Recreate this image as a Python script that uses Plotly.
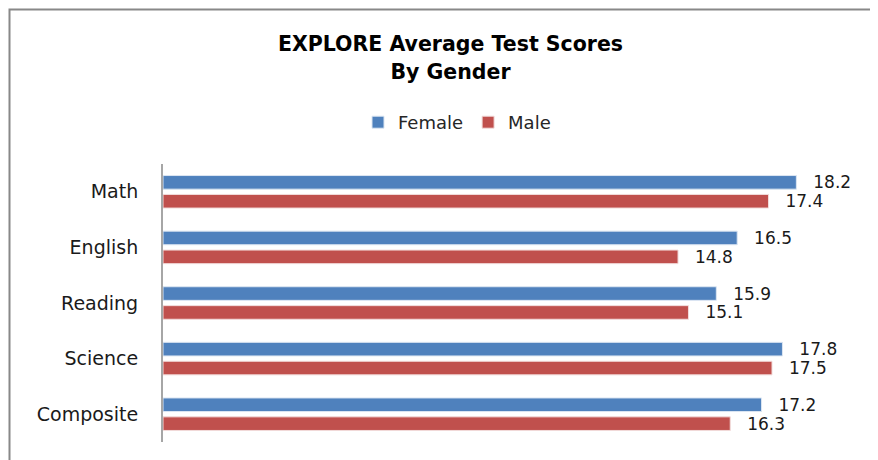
import plotly.graph_objects as go

categories = ["Math", "English", "Reading", "Science", "Composite"]
female = [18.2, 16.5, 15.9, 17.8, 17.2]
male = [17.4, 14.8, 15.1, 17.5, 16.3]

BLUE = "#4F81BD"
RED = "#C0504D"
PAD = "\u2002\u00a0"

W, H = 870, 452
L, T, R, B = 155, 156, 19, 18
PW, PH = W - L - R, H - T - B

label_font = dict(family="DejaVu Sans", size=17, color="#1a1a1a")

fig = go.Figure()
fig.add_trace(go.Bar(
    y=categories, x=male, name="Male", orientation="h",
    marker=dict(color=RED, line=dict(color="#f2dcdb", width=1)),
    text=[PAD + f"{v:.1f}" for v in male], textposition="outside",
    textfont=label_font, constraintext="none", cliponaxis=False,
))
fig.add_trace(go.Bar(
    y=categories, x=female, name="Female", orientation="h",
    marker=dict(color=BLUE, line=dict(color="#dce6f2", width=1)),
    text=[PAD + f"{v:.1f}" for v in female], textposition="outside",
    textfont=label_font, constraintext="none", cliponaxis=False,
))

fig.update_layout(
    width=W, height=H,
    margin=dict(l=L, r=R, t=T, b=B),
    paper_bgcolor="white", plot_bgcolor="white",
    barmode="group", bargap=0.32, bargroupgap=0.28,
    title=dict(
        text=("<span style='font-size:20.5px'><b>EXPLORE Average Test Scores</b></span><br>"
              "<span style='font-size:20.5px'><b>By Gender</b></span>"),
        x=442.5 / W, xref="container", xanchor="center",
        y=1 - 43 / H, yref="container", yanchor="top",
        font=dict(family="DejaVu Sans", size=21.5, color="#000000"),
    ),
    legend=dict(
        orientation="h", x=449 / W, xref="container", xanchor="center",
        y=1 - 96 / H, yref="container", yanchor="top",
        font=dict(family="DejaVu Sans", size=18, color="#262626"),
        itemwidth=30, traceorder="reversed",
    ),
    xaxis=dict(range=[0, 20], visible=False, showgrid=False, zeroline=False),
    yaxis=dict(
        categoryorder="array", categoryarray=categories[::-1],
        showline=True, linecolor="#a6a6a6", linewidth=2,
        ticks="", showgrid=False, zeroline=False,
        tickfont=dict(family="DejaVu Sans", size=19, color="#1a1a1a"),
        ticklabelstandoff=19, automargin=False,
    ),
    shapes=[
        dict(type="rect", xref="paper", yref="paper",
             x0=-(L - 1.5) / PW, x1=1 + 40 / PW,
             y0=-40 / PH, y1=1 + (T - 1.5) / PH,
             line=dict(color="#888888", width=2), fillcolor="rgba(0,0,0,0)",
             layer="below"),
    ],
)

fig.write_html("out.html")
